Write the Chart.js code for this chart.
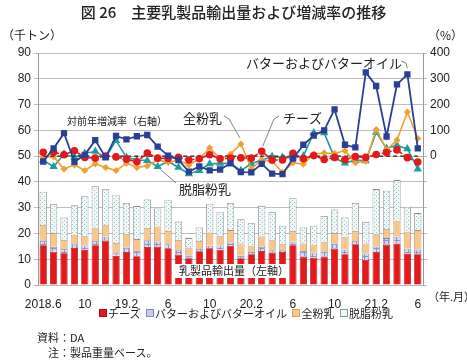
<!DOCTYPE html>
<html lang="ja">
<head>
<meta charset="utf-8">
<title>図26 主要乳製品輸出量および増減率の推移</title>
<script src="https://cdn.jsdelivr.net/npm/chart.js@4.4.1/dist/chart.umd.min.js"></script>
<style>
  html, body { margin: 0; padding: 0; background: #fff; }
  body { width: 467px; height: 361px; position: relative; overflow: hidden;
         font-family: "Noto Sans CJK JP", "Noto Sans", sans-serif; color: #222; }
  #wrap { position: absolute; left: 0; top: 0; width: 467px; height: 320px; }
  .t { position: absolute; white-space: nowrap; line-height: 1; }
  #title { left: 0; width: 467px; top: 4px; text-align: center; font-size: 15px; font-weight: 500; }
  #legend { left: 0; width: 467px; top: 308px; text-align: center; font-size: 11px; padding-left: 22px; box-sizing: border-box; }
  #legend span.box { display: inline-block; width: 6px; height: 6px; border: 1px solid #888;
                     vertical-align: 1px; margin: 0 1px 0 3px; }
</style>
</head>
<body>
<div id="wrap"><canvas id="chart" width="467" height="320"></canvas></div>
<div class="t" id="title">図 26　主要乳製品輸出量および増減率の推移</div>
<div class="t" style="left:2px;top:29px;font-size:12px;">（千トン）</div>
<div class="t" style="left:428px;top:29px;font-size:12px;">（%）</div>
<div class="t" style="left:428px;top:291px;font-size:11px;">（年.月）</div>
<div class="t" id="legend"></div>
<div class="t" style="left:37px;top:332px;font-size:11px;">資料：DA</div>
<div class="t" style="left:48px;top:347px;font-size:11px;">注：製品重量ベース。</div>

<script>
// months 2018.6 - 2021.6
var categories = ["2018.6", "7", "8", "9", "10", "11", "12", "19.1", "19.2", "3", "4", "5",
  "6", "7", "8", "9", "10", "11", "12", "20.1", "20.2", "3", "4", "5",
  "6", "7", "8", "9", "10", "11", "12", "21.1", "21.2", "3", "4", "5", "6"];

// export volume, thousand tonnes (left axis)
var cheese = [15.4, 12.9, 12.3, 14.4, 13.6, 15.4, 17.2, 11.3, 12.8, 11.2, 14.8, 14.9,
  14.3, 11.8, 10.4, 13.1, 14.3, 13.7, 15.2, 10.4, 11.9, 13.2, 12.6, 12.8,
  15.4, 11.0, 10.6, 11.0, 14.1, 11.9, 15.8, 9.7, 12.8, 15.6, 16.1, 12.2, 11.9];
var butter = [1.7, 1.9, 1.7, 1.4, 1.7, 1.7, 1.5, 1.0, 1.7, 2.0, 2.6, 2.0,
  1.5, 1.7, 1.0, 0.9, 0.9, 1.6, 1.3, 0.9, 0.9, 1.6, 0.9, 0.7,
  1.4, 2.2, 2.0, 1.8, 2.0, 1.8, 1.3, 2.5, 2.1, 2.6, 2.6, 1.9, 1.8];
var wmp = [6.2, 5.3, 3.5, 3.7, 3.6, 5.1, 4.5, 4.0, 5.3, 4.6, 4.7, 5.8,
  5.2, 4.0, 3.1, 3.1, 5.2, 3.6, 4.8, 4.8, 2.2, 4.0, 3.9, 2.3,
  4.2, 2.9, 3.0, 3.8, 4.0, 5.0, 3.9, 3.9, 4.8, 3.5, 6.2, 6.6, 7.6];
var smp = [12.9, 11.3, 8.7, 11.4, 15.5, 16.1, 13.9, 18.7, 12.0, 12.8, 11.1, 7.0,
  12.1, 7.1, 3.7, 5.2, 11.1, 9.5, 10.5, 9.4, 9.0, 11.9, 10.9, 7.2,
  12.7, 6.2, 7.4, 10.2, 9.2, 7.5, 10.8, 8.4, 17.5, 14.9, 15.8, 9.7, 6.6];

// year-on-year change, % (right axis)
var butterPct = [-21, 30, 89, -22, 5, 62, -5, 78, 65, 77, 82, 37,
  2, -15, -60, -40, -55, -52, -28, -62, -63, -30, -68, -70,
  -10, 44, 80, 100, 181, 44, 34, 325, 272, 76, 278, 317, 30];
var cheesePct = [15, 15, 5, 21, -5, -8, 0, -3, -12, -22, 12, -8,
  -9, -5, -15, -10, 5, -10, -8, -7, -8, 19, -15, -15,
  11, -10, 2, -13, -5, -14, -2, -5, 6, 14, 24, -6, -23];
var wmpPct = [-3, -2, -50, -34, -56, -30, -44, -56, -28, -44, -38, -14,
  -25, -15, -35, -10, 32, -10, 8, 47, -49, -15, -20, -63,
  -26, -31, 8, 12, 10, 21, -26, -20, 103, 24, 62, 171, 68];
var smpPct = [-16, -41, 8, -4, 11, 18, -5, 60, -5, -15, -17, -41,
  -20, -44, -69, -56, -30, -28, -28, -56, -30, -15, -2, -5,
  -7, 0, 90, 90, -7, -27, -15, -18, 92, 30, 42, 28, -50];

var jp = '"Noto Sans CJK JP", "Noto Sans", sans-serif';
var num = '"Liberation Sans", Arial, sans-serif';

function pattern(bg, fg, kind) {
  var c = document.createElement("canvas");
  c.width = 4; c.height = 4;
  var g = c.getContext("2d");
  g.fillStyle = bg; g.fillRect(0, 0, 4, 4);
  g.fillStyle = fg;
  if (kind === "grid") { g.fillRect(0, 0, 4, 1); g.fillRect(0, 0, 1, 4); }
  else { g.fillRect(0, 0, 1, 1); g.fillRect(2, 2, 1, 1); }
  return g.createPattern(c, "repeat");
}

var butterFill = pattern("#d6d8f0", "#8d92cc", "grid");
var smpFill = pattern("#f0f8f8", "#8cc6c6", "dots");

// legend
var legendItems = [
  ["チーズ", "#e3191b", "#b01010"],
  ["バターおよびバターオイル", "#c9cbea", "#8088c0"],
  ["全粉乳", "#f8c78a", "#d9a060"],
  ["脱脂粉乳", "#eef7f7", "#8a9a9a"]
];
document.getElementById("legend").innerHTML = legendItems.map(function(it) {
  return '<span class="box" style="background:' + it[1] + ';border-color:' + it[2] + '"></span>' + it[0];
}).join(" ");

// annotations, leader lines and the boxed bar caption
var notes = {
  id: "notes",
  afterDatasetsDraw: function(chart) {
    var ctx = chart.ctx, x = chart.scales.x, y1 = chart.scales.y1;
    ctx.save();
    // caption box over bottoms of bars
    var bx0 = x.getPixelForValue(13) - 6, bx1 = x.getPixelForValue(23) + 6;
    ctx.fillStyle = "#fff";
    ctx.fillRect(bx0, 264, bx1 - bx0, 14);
    ctx.fillStyle = "#222";
    ctx.textBaseline = "middle";
    ctx.font = "11px " + jp;
    ctx.fillText("乳製品輸出量（左軸）", 179, 271);

    ctx.font = "10px " + jp;
    ctx.fillText("対前年増減率（右軸）", 67, 121);
    ctx.font = "13px " + jp;
    ctx.fillText("全粉乳", 183, 118);
    ctx.fillText("チーズ", 283, 118);
    ctx.fillText("バターおよびバターオイル", 246, 63);
    ctx.fillText("脱脂粉乳", 179, 189);

    ctx.strokeStyle = "#666";
    ctx.lineWidth = 0.8;
    function leader(pts) {
      ctx.beginPath();
      ctx.moveTo(pts[0][0], pts[0][1]);
      for (var i = 1; i < pts.length; i++) ctx.lineTo(pts[i][0], pts[i][1]);
      ctx.stroke();
    }
    var px, py;
    px = x.getPixelForValue(19); py = y1.getPixelForValue(wmpPct[19]);
    leader([[224, 116], [229, 119], [px - 1, py - 6]]);
    px = x.getPixelForValue(21); py = y1.getPixelForValue(cheesePct[21]);
    leader([[279, 116], [274, 119], [px + 1, py - 5]]);
    px = x.getPixelForValue(35); py = y1.getPixelForValue(butterPct[35]);
    leader([[401, 61], [406, 63], [px, py - 6]]);
    px = x.getPixelForValue(11); py = y1.getPixelForValue(smpPct[11]);
    leader([[176, 183], [px + 3, py + 3]]);
    ctx.restore();
  }
};

var barBase = { type: "bar", yAxisID: "y", stack: "vol", borderWidth: 0.8,
  barPercentage: 0.7, categoryPercentage: 1, order: 10 };

var chart = new Chart(document.getElementById("chart"), {
  data: {
    labels: categories,
    datasets: [
      Object.assign({}, barBase, { label: "チーズ", data: cheese, backgroundColor: "#e3191b", borderColor: "#a81515" }),
      Object.assign({}, barBase, { label: "バターおよびバターオイル", data: butter, backgroundColor: butterFill, borderColor: "#8088a8" }),
      Object.assign({}, barBase, { label: "全粉乳", data: wmp, backgroundColor: "#f8c78a", borderColor: "#b89070" }),
      Object.assign({}, barBase, { label: "脱脂粉乳", data: smp, backgroundColor: smpFill, borderColor: "#8a8a8a" }),
      {
        type: "line", label: "脱脂粉乳増減率", data: smpPct, yAxisID: "y1", order: 5,
        borderColor: "#1f9c9c", backgroundColor: "#1f9c9c", borderWidth: 1.6,
        pointStyle: "triangle", pointRadius: 3.2, tension: 0
      },
      {
        type: "line", label: "全粉乳増減率", data: wmpPct, yAxisID: "y1", order: 4,
        borderColor: "#f0a030", backgroundColor: "#f0a030", borderWidth: 1.6,
        pointStyle: "rectRot", pointRadius: 2.4, tension: 0
      },
      {
        type: "line", label: "0", data: categories.map(function() { return 0; }), yAxisID: "y1", order: 3,
        borderColor: "#222", borderWidth: 1.4, borderDash: [4, 3], pointRadius: 0
      },
      {
        type: "line", label: "チーズ増減率", data: cheesePct, yAxisID: "y1", order: 2,
        borderColor: "#e3191b", backgroundColor: "#e3191b", borderWidth: 1.6, borderDash: [4, 2],
        pointStyle: "circle", pointRadius: 3, tension: 0
      },
      {
        type: "line", label: "バター増減率", data: butterPct, yAxisID: "y1", order: 1,
        borderColor: "#2b3f96", backgroundColor: "#2b3f96", borderWidth: 1.8,
        pointStyle: "rect", pointRadius: 3.2, tension: 0
      }
    ]
  },
  options: {
    responsive: false,
    devicePixelRatio: 1,
    animation: false,
    layout: { padding: { top: 53, left: 0, right: 0, bottom: 0 } },
    plugins: { legend: { display: false }, tooltip: { enabled: false } },
    scales: {
      x: {
        stacked: true,
        grid: { display: false },
        border: { display: false },
        ticks: {
          autoSkip: false, maxRotation: 0, padding: 4, color: "#222",
          font: { size: 12, family: num },
          callback: function(v, i) { return i % 4 === 0 ? categories[i] : ""; }
        },
        afterFit: function(s) { s.height = 35; }
      },
      y: {
        position: "left", stacked: true, min: 0, max: 90,
        grid: { color: "#bdbdbd", lineWidth: 1, tickLength: 4 },
        border: { display: true, color: "#9a9a9a" },
        ticks: { stepSize: 10, padding: 3, color: "#222", font: { size: 12, family: num } },
        afterFit: function(s) { s.width = 38; }
      },
      y1: {
        position: "right", stacked: false, min: -500, max: 400,
        grid: { drawOnChartArea: false, tickLength: 4, color: "#bdbdbd" },
        border: { display: true, color: "#9a9a9a" },
        ticks: { stepSize: 100, padding: 3, color: "#222", font: { size: 12, family: num },
          callback: function(v) { return v >= 0 ? v : ""; } },
        afterFit: function(s) { s.width = 44; }
      }
    }
  },
  plugins: [notes]
});
</script>
</body>
</html>
